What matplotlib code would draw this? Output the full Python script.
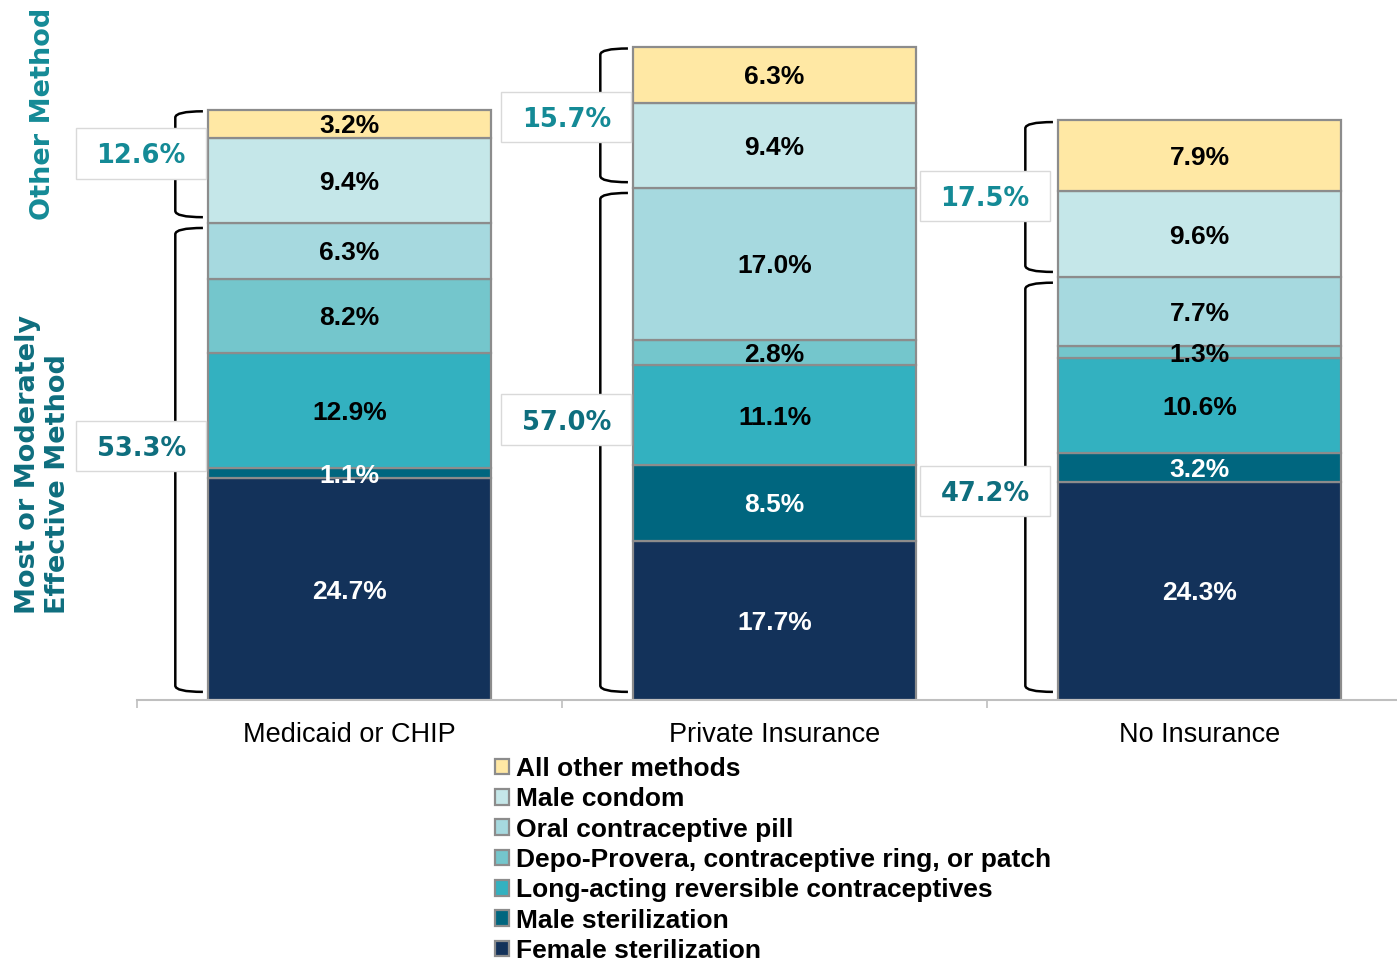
import matplotlib
matplotlib.use("Agg")
import matplotlib.pyplot as plt
from matplotlib.patches import Patch, Rectangle, PathPatch
from matplotlib.path import Path

# Data (percent of women using each method), bottom -> top
groups = ["Medicaid or CHIP", "Private Insurance", "No Insurance"]
methods = [
    "Female sterilization",
    "Male sterilization",
    "Long-acting reversible contraceptives",
    "Depo-Provera, contraceptive ring, or patch",
    "Oral contraceptive pill",
    "Male condom",
    "All other methods",
]
female_ster = [24.7, 17.7, 24.3]
male_ster = [1.1, 8.5, 3.2]
larc = [12.9, 11.1, 10.6]
depo = [8.2, 2.8, 1.3]
pill = [6.3, 17.0, 7.7]
condom = [9.4, 9.4, 9.6]
other = [3.2, 6.3, 7.9]
effective_totals = ["53.3%", "57.0%", "47.2%"]
other_totals = ["12.6%", "15.7%", "17.5%"]

series = [female_ster, male_ster, larc, depo, pill, condom, other]
colors = ["#13325A", "#00667F", "#33B1C0", "#74C6CC", "#A6D9DF", "#C5E7E9", "#FFE8A4"]
text_colors = ["white", "white", "black", "black", "black", "black", "black"]
teal_top = "#148A96"
teal_low = "#0E6E7E"
bar_w = 0.666

fig = plt.figure(figsize=(13.97, 9.66), dpi=100)
ax = fig.add_axes([0.0981, 0.2754, 0.9127, 0.6967])

x = list(range(len(groups)))
bottoms = [0.0] * len(groups)
for vals, col, tcol in zip(series, colors, text_colors):
    bars = ax.bar(x, vals, bar_w, bottom=bottoms, color=col, edgecolor="#8C8C8C", linewidth=1.6, zorder=2)
    for b, v, btm in zip(bars, vals, bottoms):
        ax.text(b.get_x() + b.get_width() / 2, btm + v / 2, f"{v:.1f}%", ha="center", va="center_baseline",
                color=tcol, fontsize=19, fontweight="bold", family="Liberation Sans", zorder=4)
    bottoms = [b + v for b, v in zip(bottoms, vals)]

eff_tops = [sum(s[i] for s in series[:5]) for i in x]
totals = bottoms


def bracket(xc, y0, y1):
    xv = xc - 0.41
    xe = xc - bar_w / 2 - 0.012
    r = 0.7
    verts = [(xe, y1), (xv, y1), (xv, y1 - r), (xv, y0 + r), (xv, y0), (xe, y0)]
    codes = [Path.MOVETO, Path.CURVE3, Path.CURVE3, Path.LINETO, Path.CURVE3, Path.CURVE3]
    ax.add_patch(PathPatch(Path(verts, codes), fill=False, lw=1.8, color="black", zorder=3, clip_on=False))


def boxed(xc, yc, txt, col):
    w, h = 0.305, 5.6
    ax.add_patch(Rectangle((xc - w / 2, yc - h / 2), w, h, facecolor="white", edgecolor="#D9D9D9",
                           lw=1.0, zorder=5, clip_on=False))
    ax.text(xc, yc, txt, ha="center", va="center_baseline", color=col, fontsize=18.5, fontweight="bold",
            family="DejaVu Sans", zorder=6)


other_shift = [1.4, 0.0, 0.3]
eff_shift = [1.7, 2.7, -0.3]
box_dx = [-0.49, -0.49, -0.505]
for i in x:
    bracket(i, eff_tops[i] + 0.6, totals[i] - 0.2)
    bracket(i, 0.9, eff_tops[i] - 0.6)
    boxed(i + box_dx[i], (eff_tops[i] + totals[i]) / 2 + other_shift[i], other_totals[i], teal_top)
    boxed(i + box_dx[i], eff_tops[i] / 2 + eff_shift[i], effective_totals[i], teal_low)

ax.set_xlim(-0.5, 2.5)
ax.set_ylim(0, 75)
for s in ["top", "right", "left"]:
    ax.spines[s].set_visible(False)
ax.spines["bottom"].set_color("#BFBFBF")
ax.spines["bottom"].set_linewidth(1.5)
ax.set_yticks([])
ax.set_xticks([-0.5, 0.5, 1.5, 2.5])
ax.set_xticklabels([])
ax.tick_params(axis="x", which="major", length=6, color="#BFBFBF", width=1.2)
ax.set_xticks(x, minor=True)
ax.set_xticklabels(groups, minor=True, fontsize=19.5, family="Liberation Sans")
ax.tick_params(axis="x", which="minor", length=0, pad=16)

fig.text(0.0305, 0.882, "Other Method", rotation=90, ha="center", va="center", color=teal_top,
         fontsize=19.5, fontweight="bold", family="DejaVu Sans")
fig.text(0.031, 0.519, "Most or Moderately\nEffective Method", rotation=90, ha="center", va="center",
         multialignment="left", color=teal_low, fontsize=19.5, fontweight="bold", family="DejaVu Sans",
         linespacing=1.2)

handles = [Patch(facecolor=c, edgecolor="#8C8C8C", linewidth=1.6) for c in colors[::-1]]
fig.legend(handles, methods[::-1], loc="upper left", bbox_to_anchor=(0.3543, 0.2165), frameon=False,
           prop={"family": "Liberation Sans", "weight": "bold", "size": 19},
           handlelength=0.55, handleheight=0.55, handletextpad=0.25, labelspacing=0.24,
           borderpad=0, borderaxespad=0)

fig.savefig("out.png", dpi=100)
